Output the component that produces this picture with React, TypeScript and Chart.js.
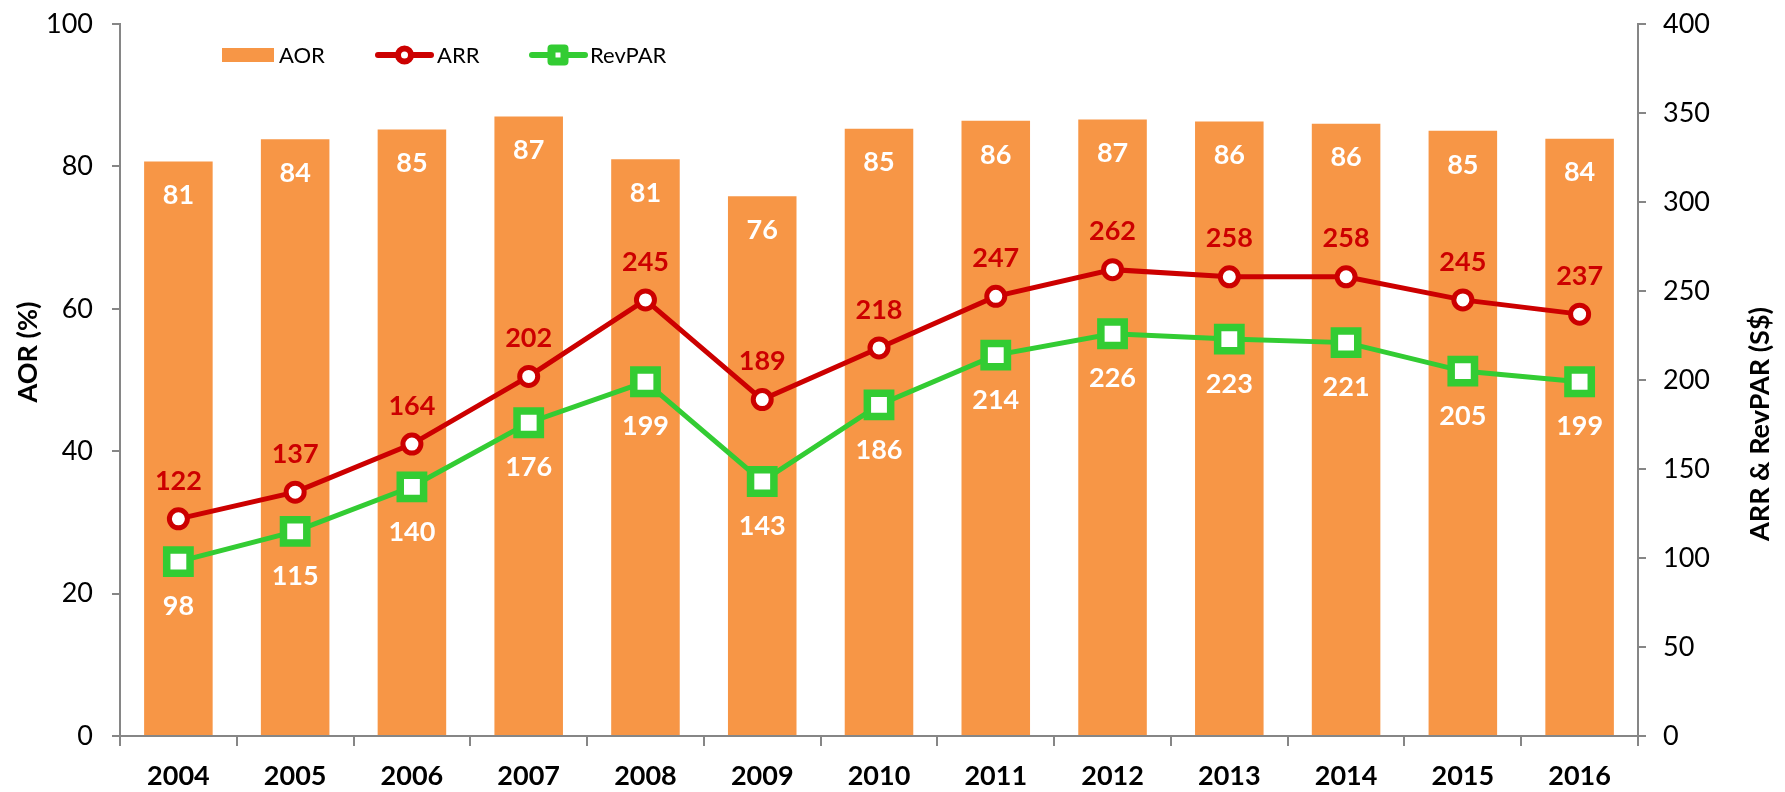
import React, { useEffect, useRef } from 'react';
import { Chart, registerables } from 'chart.js';

Chart.register(...registerables);

// ---- data ----
const years = ['2004', '2005', '2006', '2007', '2008', '2009', '2010', '2011', '2012', '2013', '2014', '2015', '2016'];
const aorValues = [80.7, 83.8, 85.2, 87.0, 81.0, 75.8, 85.3, 86.4, 86.6, 86.3, 86.0, 85.0, 83.9];
const arrValues = [122, 137, 164, 202, 245, 189, 218, 247, 262, 258, 258, 245, 237];
const revparValues = [98, 115, 140, 176, 199, 143, 186, 214, 226, 223, 221, 205, 199];
const seriesNames = ['AOR', 'ARR', 'RevPAR'];
const leftAxisTitle = 'AOR (%)';
const rightAxisTitle = 'ARR & RevPAR (S$)';
const leftMax = 100;
const leftStep = 20;
const rightMax = 400;
const rightStep = 50;

const ORANGE = '#F79646';
const RED = '#CC0000';
const GREEN = '#33CC33';
const AXIS = '#868686';
const FONT = 'Lato, "Open Sans", sans-serif';

const W = 1785;
const H = 792;

const overlayPlugin = {
  id: 'overlay',
  afterDatasetsDraw(chart: any) {
    const ctx = chart.ctx;
    ctx.save();
    ctx.font = `bold 27px ${FONT}`;
    ctx.textAlign = 'center';
    ctx.textBaseline = 'middle';
    const barMeta = chart.getDatasetMeta(0);
    barMeta.data.forEach((el: any, i: number) => {
      ctx.fillStyle = '#FFFFFF';
      ctx.fillText(Math.round(aorValues[i]).toString(), el.x, el.y + 34);
    });
    const arrMeta = chart.getDatasetMeta(1);
    arrMeta.data.forEach((el: any, i: number) => {
      ctx.fillStyle = RED;
      ctx.fillText(String(arrValues[i]), el.x, el.y - 38);
    });
    const revMeta = chart.getDatasetMeta(2);
    revMeta.data.forEach((el: any, i: number) => {
      ctx.fillStyle = '#FFFFFF';
      ctx.fillText(String(revparValues[i]), el.x, el.y + 45);
    });
    ctx.restore();
  },
  afterDraw(chart: any) {
    const ctx = chart.ctx;
    const ds = chart.data.datasets;
    ctx.save();
    const ly = 55;
    // legend: AOR
    ctx.fillStyle = ORANGE;
    ctx.fillRect(222, 48, 52, 14);
    ctx.font = `22px ${FONT}`;
    ctx.fillStyle = '#000000';
    ctx.textAlign = 'left';
    ctx.textBaseline = 'middle';
    ctx.fillText(ds[0].label, 279, ly + 1);
    // legend: ARR
    ctx.lineCap = 'round';
    ctx.strokeStyle = RED;
    ctx.lineWidth = 6;
    ctx.beginPath();
    ctx.moveTo(378, ly);
    ctx.lineTo(431, ly);
    ctx.stroke();
    ctx.beginPath();
    ctx.arc(404.5, ly, 6.5, 0, Math.PI * 2);
    ctx.fillStyle = '#FFFFFF';
    ctx.fill();
    ctx.stroke();
    ctx.fillStyle = '#000000';
    ctx.fillText(ds[1].label, 437, ly + 1);
    // legend: RevPAR
    ctx.strokeStyle = GREEN;
    ctx.lineWidth = 6;
    ctx.beginPath();
    ctx.moveTo(532, ly);
    ctx.lineTo(585, ly);
    ctx.stroke();
    ctx.lineWidth = 8;
    ctx.lineJoin = 'round';
    ctx.beginPath();
    ctx.rect(558 - 6.5, ly - 6.5, 13, 13);
    ctx.fillStyle = '#FFFFFF';
    ctx.fill();
    ctx.stroke();
    ctx.fillStyle = '#000000';
    ctx.fillText(ds[2].label, 590, ly + 1);

    // axis titles
    ctx.font = `bold 27px ${FONT}`;
    ctx.textAlign = 'center';
    ctx.textBaseline = 'middle';
    ctx.fillStyle = '#000000';
    ctx.save();
    ctx.translate(28, 352);
    ctx.rotate(-Math.PI / 2);
    ctx.fillText(leftAxisTitle, 0, 0);
    ctx.restore();
    ctx.save();
    ctx.translate(1760, 424);
    ctx.rotate(-Math.PI / 2);
    ctx.fillText(rightAxisTitle, 0, 0);
    ctx.restore();
    ctx.restore();
  },
};

export default function App() {
  const canvasRef = useRef<HTMLCanvasElement | null>(null);

  useEffect(() => {
    let chart: Chart | null = null;
    let cancelled = false;
    const build = () => {
      if (cancelled || !canvasRef.current) return;
      chart = new Chart(canvasRef.current, {
        type: 'bar',
        data: {
          labels: years,
          datasets: [
            {
              type: 'bar',
              label: seriesNames[0],
              data: aorValues,
              backgroundColor: ORANGE,
              borderWidth: 0,
              barPercentage: 0.587,
              categoryPercentage: 1.0,
              yAxisID: 'y',
              order: 3,
            } as any,
            {
              type: 'line',
              label: seriesNames[1],
              data: arrValues,
              borderColor: RED,
              borderWidth: 5,
              pointStyle: 'circle',
              pointRadius: 9,
              pointBorderWidth: 5,
              pointBackgroundColor: '#FFFFFF',
              pointBorderColor: RED,
              tension: 0,
              yAxisID: 'y1',
              order: 2,
            } as any,
            {
              type: 'line',
              label: seriesNames[2],
              data: revparValues,
              borderColor: GREEN,
              borderWidth: 5,
              pointStyle: 'rect',
              pointRadius: 16.5,
              pointBorderWidth: 7.5,
              pointBackgroundColor: '#FFFFFF',
              pointBorderColor: GREEN,
              tension: 0,
              yAxisID: 'y1',
              order: 1,
            } as any,
          ],
        },
        options: {
          responsive: false,
          animation: false,
          events: [],
          layout: { padding: { top: 20, left: 0, right: 0, bottom: 0 } },
          plugins: {
            legend: { display: false },
            tooltip: { enabled: false },
            title: { display: false },
          },
          scales: {
            x: {
              grid: {
                offset: true,
                drawOnChartArea: false,
                drawTicks: true,
                tickLength: 10,
                color: AXIS,
                lineWidth: 2,
              },
              border: { color: AXIS, width: 2 },
              ticks: {
                font: { family: FONT, size: 27, weight: 'bold' },
                color: '#000000',
                padding: 14,
                maxRotation: 0,
              },
              afterFit: (scale: any) => {
                scale.height = 56;
                scale.paddingLeft = 0;
                scale.paddingRight = 0;
              },
            },
            y: {
              position: 'left',
              min: 0,
              max: leftMax,
              ticks: {
                stepSize: leftStep,
                font: { family: FONT, size: 27 },
                color: '#000000',
                padding: 19,
              },
              grid: {
                drawOnChartArea: false,
                drawTicks: true,
                tickLength: 8,
                color: AXIS,
                lineWidth: 2,
              },
              border: { color: AXIS, width: 2 },
              afterFit: (scale: any) => {
                scale.width = 120;
                scale.paddingTop = 0;
                scale.paddingBottom = 0;
              },
            },
            y1: {
              position: 'right',
              min: 0,
              max: rightMax,
              ticks: {
                stepSize: rightStep,
                font: { family: FONT, size: 27 },
                color: '#000000',
                padding: 17,
              },
              grid: {
                drawOnChartArea: false,
                drawTicks: true,
                tickLength: 8,
                color: AXIS,
                lineWidth: 2,
              },
              border: { color: AXIS, width: 2 },
              afterFit: (scale: any) => {
                scale.width = W - 1638;
                scale.paddingTop = 0;
                scale.paddingBottom = 0;
              },
            },
          },
        } as any,
        plugins: [overlayPlugin],
      });
    };
    const fontsApi = (document as any).fonts;
    if (fontsApi && fontsApi.load) {
      Promise.all([
        fontsApi.load(`27px Lato`),
        fontsApi.load(`bold 27px Lato`),
        fontsApi.load(`22px Lato`),
      ])
        .catch(() => null)
        .then(() => build());
    } else {
      build();
    }
    return () => {
      cancelled = true;
      if (chart) chart.destroy();
    };
  }, []);

  return (
    <div style={{ position: 'absolute', left: 0, top: 0, width: W, height: H, background: '#FFFFFF' }}>
      <canvas ref={canvasRef} width={W} height={H} style={{ display: 'block', width: W, height: H }} />
    </div>
  );
}
